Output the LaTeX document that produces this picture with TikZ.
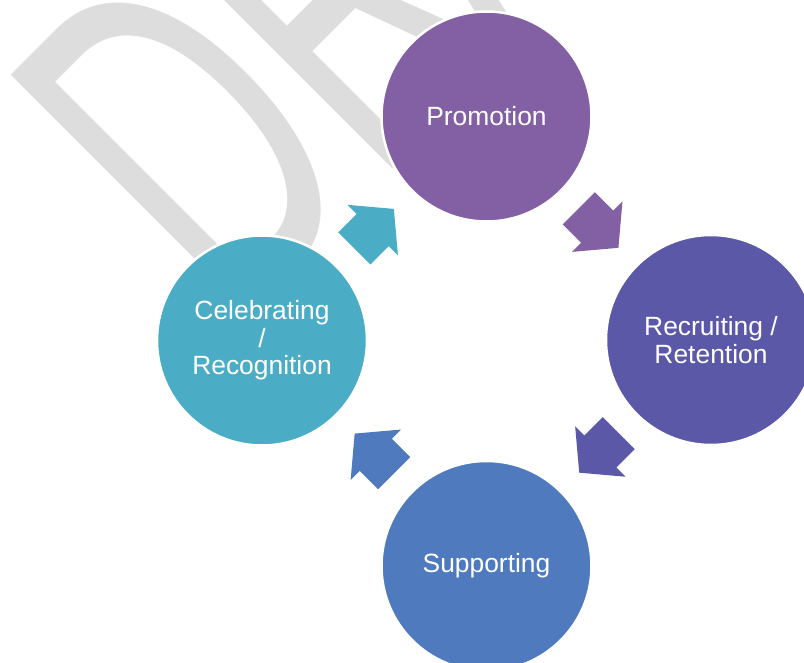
\documentclass[tikz,border=0pt]{standalone}
\usepackage{fontspec}
\setmainfont{Liberation Sans}
\usetikzlibrary{shapes.arrows,calc}

\definecolor{promocol}{HTML}{8360A4}
\definecolor{recruitcol}{HTML}{5B58A8}
\definecolor{supportcol}{HTML}{4F7ABE}
\definecolor{celebcol}{HTML}{4BACC6}
\definecolor{markgray}{HTML}{DDDDDD}

\tikzset{
  stage/.style={circle, minimum size=210pt, inner sep=0pt, draw=white,
    line width=2.5pt, text=white, align=center,
    font=\fontsize{26.4}{27.5}\selectfont},
  cyclearrow/.style={single arrow, single arrow tip angle=100,
    single arrow head extend=13pt, minimum height=56pt,
    inner xsep=0pt, inner ysep=22.5pt, draw=none, anchor=tip}
}

\begin{document}
\begin{tikzpicture}[x=1pt, y=-1pt]
\useasboundingbox (0,0) rectangle (804,663);
% Watermark
\begin{scope}
  \clip (0,0) rectangle (804,663);
  \node[text=markgray, font=\fontsize{489}{489}\selectfont,
    anchor=base west, inner sep=0pt, rotate=45, xscale=0.58] (mark)
    at (232,330) {DR\kern-0.09em AFT};
\end{scope}
% Stages
\node[stage, fill=promocol]   (promo)   at (486.5,116.5) {Promotion};
\node[stage, fill=recruitcol] (recruit) at (711,340)     {Recruiting /\\Retention};
\node[stage, fill=supportcol] (support) at (486.5,566)   {Supporting};
\node[stage, fill=celebcol]   (celeb)   at (262,340.5)   {Celebrating\\/\\Recognition};
% Arrows between stages, tip 28pt past the midpoint
\node[cyclearrow, fill=promocol, rotate=-45]    (a1) at ($(promo)!0.5!(recruit)!28pt!(recruit)$) {};
\node[cyclearrow, fill=recruitcol, rotate=-135] (a2) at ($(recruit)!0.5!(support)!28pt!(support)$) {};
\node[cyclearrow, fill=supportcol, rotate=135]  (a3) at ($(support)!0.5!(celeb)!28pt!(celeb)$) {};
\node[cyclearrow, fill=celebcol, rotate=45]     (a4) at ($(celeb)!0.5!(promo)!28pt!(promo)$) {};
\end{tikzpicture}
\end{document}
